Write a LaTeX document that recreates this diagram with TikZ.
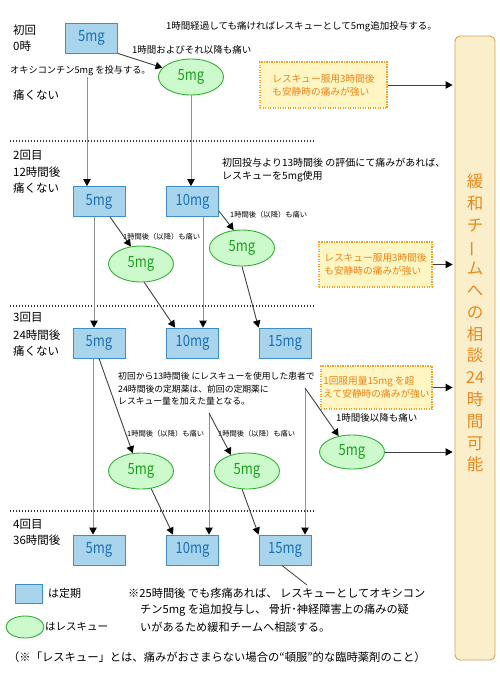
\documentclass[tikz,border=0pt]{standalone}
\usepackage{fontspec}
\setmainfont{Noto Sans CJK JP}
\newfontfamily\narrowfont[FakeStretch=0.84]{Noto Sans CJK JP}
\usetikzlibrary{arrows.meta,shapes.geometric,calc}
\definecolor{regf}{HTML}{A8D4EC}
\definecolor{regb}{HTML}{3D8FC6}
\definecolor{regt}{HTML}{1C6FB5}
\definecolor{rescf}{HTML}{CCFACC}
\definecolor{rescb}{HTML}{33B033}
\definecolor{resct}{HTML}{1E9E1E}
\definecolor{oboxf}{HTML}{FFF6C4}
\definecolor{oboxb}{HTML}{F0A030}
\definecolor{oboxt}{HTML}{EA8418}
\definecolor{teamf}{HTML}{FBEFCB}
\definecolor{teamb}{HTML}{D6A455}
\definecolor{teamt}{HTML}{E8891E}
\definecolor{lgray}{HTML}{909090}
\definecolor{dgray}{HTML}{404040}
\begin{document}
\begin{tikzpicture}[x=1pt,y=-1pt,
  reg/.style={draw=regb,fill=regf,text=regt,minimum width=52pt,minimum height=30pt,inner sep=0pt,line width=0.9pt,font=\narrowfont\fontsize{15.5}{17}\selectfont},
  resc/.style={ellipse,draw=rescb,fill=rescf,text=resct,minimum width=65pt,minimum height=36pt,inner sep=0pt,line width=0.9pt,font=\narrowfont\fontsize{15.5}{17}\selectfont},
  obox/.style={draw=oboxb,fill=oboxf,text=oboxt,dash pattern=on 1.2pt off 1.3pt,line width=1.1pt,inner sep=0pt,align=left,font=\fontsize{9.7}{13}\selectfont},
  lbl/.style={anchor=west,inner sep=0pt,text=black,font=\fontsize{9.5}{12}\selectfont},
  rowlbl/.style={anchor=west,inner sep=0pt,text=black,font=\fontsize{11.5}{14}\selectfont},
  small/.style={anchor=west,inner sep=0pt,text=black,font=\fontsize{7.3}{9}\selectfont},
  vline/.style={draw=lgray,line width=0.9pt,-{Triangle[length=7pt,width=7.5pt,color=black]}},
  dline/.style={draw=dgray,line width=0.9pt,-{Triangle[length=7pt,width=7.5pt,color=black]}},
  sepline/.style={draw=black!80,line width=1.1pt,dash pattern=on 1.1pt off 1.9pt},
  team/.style={draw=teamb,fill=teamf,line width=0.9pt,rounded corners=5pt,minimum width=40pt,minimum height=624pt,inner sep=0pt}
]
\fill[white] (0,0) rectangle (500,686);
\useasboundingbox (0,0) rectangle (500,686);

% separators
\draw[sepline] (10,141) -- (315,141);
\draw[sepline] (10,306) -- (315,306);
\draw[sepline] (10,511) -- (315,511);

% team box
\node[team] (team) at (475,348) {};
\node[font=\fontsize{16.5}{21.8}\selectfont,text=teamt,align=center,inner sep=0pt] (teamtxt) at (475,323)
  {緩\\和\\チ\\\rotatebox[origin=c]{90}{ー}\\ム\\へ\\の\\相\\談\\24\\時\\間\\可\\能};

% row labels
\node[rowlbl] (l1a) at (13,30) {初回};
\node[rowlbl] (l1b) at (13,46) {0時};
\node[rowlbl] (l1c) at (13,95) {痛くない};
\node[rowlbl] (l2a) at (13,155) {2回目};
\node[rowlbl] (l2b) at (13,172) {12時間後};
\node[rowlbl] (l2c) at (13,188) {痛くない};
\node[rowlbl] (l3a) at (13,317) {3回目};
\node[rowlbl] (l3b) at (13,335) {24時間後};
\node[rowlbl] (l3c) at (13,351) {痛くない};
\node[rowlbl] (l4a) at (13,524) {4回目};
\node[rowlbl] (l4b) at (13,540) {36時間後};

% regular boxes
\node[reg] (r1) at (91.5,38) {5mg};
\node[reg] (r2a) at (99,201.5) {5mg};
\node[reg] (r2b) at (192.5,201.5) {10mg};
\node[reg] (r3a) at (99,343) {5mg};
\node[reg] (r3b) at (192.5,343) {10mg};
\node[reg] (r3c) at (285,343) {15mg};
\node[reg] (r4a) at (99,550) {5mg};
\node[reg] (r4b) at (192.5,550) {10mg};
\node[reg] (r4c) at (285,550) {15mg};

% rescue ellipses
\node[resc] (e1) at (191,77) {5mg};
\node[resc] (e2a) at (141,264) {5mg};
\node[resc] (e2b) at (242,248) {5mg};
\node[resc] (e3a) at (141,471) {5mg};
\node[resc] (e3b) at (247,471) {5mg};
\node[resc,minimum height=34pt] (e3c) at (352,452) {5mg};

% orange boxes
\node[obox,minimum width=127pt,minimum height=46pt] (o1) at (323.5,85) {レスキュー服用3時間後\\も安静時の痛みが強い};
\node[obox,minimum width=113pt,minimum height=45pt] (o2) at (375.5,264.5) {レスキュー服用3時間後\\も安静時の痛みが強い};
\node[obox,minimum width=111pt,minimum height=43pt] (o3) at (376.5,387.5) {1回服用量15mg を超\\えて安静時の痛みが強い};

% texts
\node[lbl] (t1) at (166,27) {1時間経過しても痛ければレスキューとして5mg追加投与する。};
\node[lbl] (t2) at (132,50) {1時間およびそれ以降も痛い};
\node[lbl,font=\fontsize{9.2}{12}\selectfont] (t3) at (10,71) {オキシコンチン5mg を投与する。};
\node[lbl,align=left,anchor=north west,font=\fontsize{10}{12.5}\selectfont] (t4) at (222,158) {初回投与より13時間後 の評価にて痛みがあれば、\\レスキューを5mg使用};
\node[lbl,align=left,anchor=north west,font=\fontsize{8.8}{12.5}\selectfont] (t5) at (118,372) {初回から13時間後 にレスキューを使用した患者で\\24時間後の定期薬は、前回の定期薬に\\レスキュー量を加えた量となる。};
\node[small] (s2a) at (123,237) {1時間後（以降）も痛い};
\node[small] (s2b) at (230,215) {1時間後（以降）も痛い};
\node[small] (s3a) at (127,434) {1時間後（以降）も痛い};
\node[small] (s3b) at (218,434) {1時間後（以降）も痛い};
\node[lbl] (s3c) at (336,418) {1時間後以降も痛い};

% connector start points below texts
\coordinate (c1) at (87,77);
\coordinate (c3) at (209,413);
\coordinate (c4) at (305,388);
\coordinate (cn) at (307,585);

% connectors
\draw[dline] (r1.south east) -- (e1);
\draw[vline] (c1) -- (c1 |- r2a.north);
\draw[vline] (e1.south) -- (e1.south |- r2b.north);
\draw[dline] ($(r2a.south)+(11,0)$) -- (e2a.120);
\draw[dline] ($(r2b.south east)+(0,-6)$) -- (e2b.115);
\draw[vline] ($(r2a.south)+(-5,0)$) -- ($(r3a.north)+(-5,0)$);
\draw[vline] ($(r2b.south)+(10.5,0)$) -- ($(r3b.north)+(10.5,0)$);
\draw[dline] (e2a.280) -- ($(r3b.north)+(-17.5,0)$);
\draw[dline] (e2b.south) -- (r3c.north west);
\draw[dline] (r3a.south) -- (e3a.115);
\draw[vline] ($(r3a.south)+(-6,0)$) -- ($(r4a.north)+(-6,0)$);
\draw[vline] (c3) -- (c3 |- r4b.north);
\draw[dline] (c3) -- (e3b.135);
\draw[dline] (e3a.300) -- ($(r4b.north)+(-19.5,0)$);
\draw[dline] (e3b.255) -- (r4c.north west);
\draw[vline] (c4) -- (c4 |- r4c.north);
\draw[dline] (c4) -- (e3c.130);
\draw[dline,shorten >=2pt] (e3c.east) -- (e3c.east -| team.west);
\draw[dline,shorten >=2pt] (o1.east) -- (o1.east -| team.west);
\draw[dline,shorten >=2pt] (o2.east) -- (o2.east -| team.west);
\draw[dline,shorten >=2pt] (o3.east) -- (o3.east -| team.west);
\draw[draw=dgray,line width=0.8pt] ($(r4c.south)+(-3,0)$) -- (cn);

% legend
\node[reg,minimum width=27pt,minimum height=19pt] (kreg) at (28.5,593.5) {};
\node[rowlbl,font=\fontsize{11}{13}\selectfont] (kregt) at (48,593) {は定期};
\node[resc,minimum width=38pt,minimum height=22pt] (kresc) at (25,627) {};
\node[rowlbl,font=\fontsize{10.5}{13}\selectfont] (kresct) at (45,627) {はレスキュー};

% notes
\node[lbl,font=\fontsize{11.2}{13}\selectfont] (n1) at (128,593) {※25時間後 でも疼痛あれば、 レスキューとしてオキシコン};
\node[lbl,font=\fontsize{11.2}{13}\selectfont] (n2) at (140,610) {チン5mg を追加投与し、 骨折･神経障害上の痛みの疑};
\node[lbl,font=\fontsize{11.2}{13}\selectfont] (n3) at (140,627) {いがあるため緩和チームへ相談する。};
\node[lbl,font=\fontsize{11.3}{13}\selectfont] (fn) at (8,657) {（※「レスキュー」とは、痛みがおさまらない場合の“頓服”的な臨時薬剤のこと）};
\end{tikzpicture}
\end{document}
